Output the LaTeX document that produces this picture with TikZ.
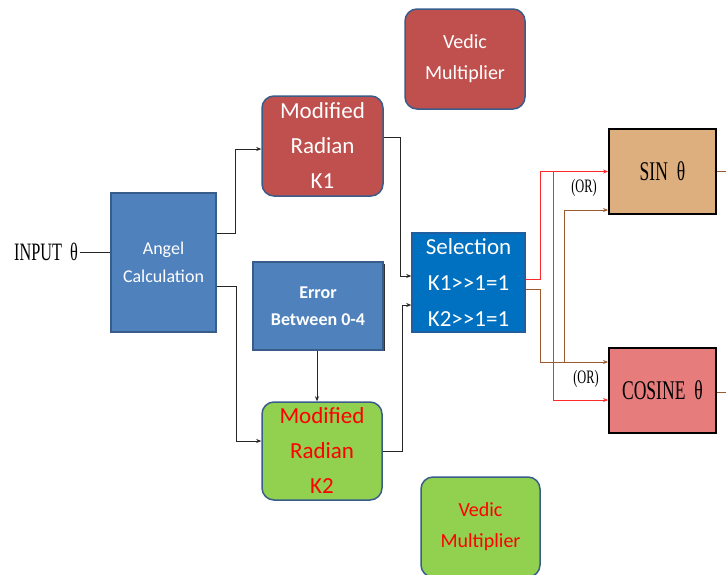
\documentclass[tikz,border=0pt]{standalone}
\usepackage{fontspec}
\setmainfont{Carlito}
\newfontfamily\serif[FakeStretch=0.65]{Liberation Serif}
\usetikzlibrary{arrows.meta,calc}
\definecolor{boxblue}{HTML}{4F81BD}
\definecolor{edgeblue}{HTML}{385D8A}
\definecolor{selblue}{HTML}{0070C0}
\definecolor{seledge}{HTML}{1F5F9F}
\definecolor{kred}{HTML}{C0504D}
\definecolor{kgreen}{HTML}{92D050}
\definecolor{sintan}{HTML}{DEAF7E}
\definecolor{cospink}{HTML}{E67C7C}
\definecolor{wirered}{HTML}{FF2A2A}
\definecolor{wirebrown}{HTML}{9C5A2E}
\tikzset{
  blk/.style={draw=edgeblue, line width=1.5pt, inner sep=0pt, align=center},
  sq/.style={blk, fill=boxblue, text=white},
  rnd/.style={blk, rounded corners=12pt},
  trig/.style={draw=black, line width=1.8pt, inner sep=0pt, align=center, minimum width=107pt, minimum height=85pt},
  conn/.style={draw=black!85, line width=0.7pt, -{Stealth[length=5pt,width=4pt]}},
  rw/.style={draw=wirered, line width=0.8pt, -{Stealth[length=5pt,width=4pt]}},
  bw/.style={draw=wirebrown, line width=0.8pt, -{Stealth[length=5pt,width=4pt]}},
  orlabel/.style={font=\serif\fontsize{19}{22}\selectfont, inner sep=0pt},
}
\begin{document}
\begin{tikzpicture}[x=1pt,y=-1pt]
\useasboundingbox (0,0) rectangle (726,574);
\begin{scope}
\clip (0,0) rectangle (726,574);
% nodes
\node[font=\serif\fontsize{25}{28}\selectfont, inner sep=2pt] (inp) at (46,252) {INPUT\hspace{8pt}θ};
\node[sq, minimum width=105pt, minimum height=139pt, font=\fontsize{18}{28}\selectfont] (angel) at (163.5,262.5) {Angel\\Calculation};
\node[rnd, fill=kred, text=white, minimum width=121pt, minimum height=100pt, font=\fontsize{23}{35}\selectfont] (k1) at (322.5,146) {Modified\\Radian\\K1};
\node[sq, minimum width=130pt, minimum height=88pt, font=\bfseries\fontsize{18}{27}\selectfont] (err) at (318,306) {Error\\Between 0-4};
\draw[black!80, line width=1.1pt] ([xshift=0.9pt,yshift=-3pt]err.north east) -- ([xshift=0.9pt]err.south east);
\node[rnd, fill=kgreen, text=red, minimum width=120pt, minimum height=98pt, font=\fontsize{23}{35}\selectfont] (k2) at (322,451) {Modified\\Radian\\K2};
\node[blk, draw=seledge, fill=selblue, text=white, minimum width=113pt, minimum height=99pt, font=\fontsize{23}{36}\selectfont] (sel) at (468.5,282.5) {Selection\\K1>{}>1=1\\K2>{}>1=1};
\node[trig, fill=sintan, font=\serif\fontsize{27}{30}\selectfont] (sin) at (662.5,171.5) {SIN\hspace{9pt}θ};
\node[trig, fill=cospink, font=\serif\fontsize{27}{30}\selectfont] (cos) at (662.5,390.5) {COSINE\hspace{9pt}θ};
\node[rnd, fill=kred, text=white, minimum width=120pt, minimum height=100pt, font=\fontsize{20}{31}\selectfont] (v1) at (465,59) {Vedic\\Multiplier};
\node[rnd, fill=kgreen, text=red, minimum width=119pt, minimum height=100pt, font=\fontsize{20}{31}\selectfont] (v2) at (480.5,527) {Vedic\\Multiplier};
\node[orlabel] (or1) at (584,188) {(OR)};
\node[orlabel] (or2) at (586,379) {(OR)};
% connectors
\draw[draw=black!85, line width=0.9pt] (inp.east) -- (angel.west |- inp.east);
\draw[conn] ([yshift=29.5pt]angel.east) -- ++(19,0) |- ([yshift=-3pt]k1.west);
\draw[conn] ([yshift=-23.5pt]angel.east) -- ++(20,0) |- ([yshift=10pt]k2.west);
\draw[conn] ([yshift=9pt]k1.east) -- ++(17,0) |- ([yshift=6.5pt]sel.west);
\draw[conn] (k2.east) -- ++(20,0) |- ([yshift=-22.5pt]sel.west);
\draw[conn] (err.south -| 317,0) -- (k2.north -| 317,0);
% red wires
\draw[rw] ([yshift=3.5pt]sel.east) -- ++(15,0) |- (sin.west);
\draw[rw] (553,171.5) |- ([yshift=-9.5pt]cos.west);
% brown wires
\draw[bw] ([yshift=-6.5pt]sel.east) -- ++(15,0) |- ([yshift=28.5pt]cos.west);
\draw[bw] (564,362) |- ([yshift=-38.5pt]sin.west);
\draw[draw=wirebrown, line width=0.8pt] (sin.east) -- ++(20,0);
\draw[draw=wirebrown, line width=0.8pt] ([yshift=-1.5pt]cos.east) -- ++(20,0);
\end{scope}
\end{tikzpicture}
\end{document}
